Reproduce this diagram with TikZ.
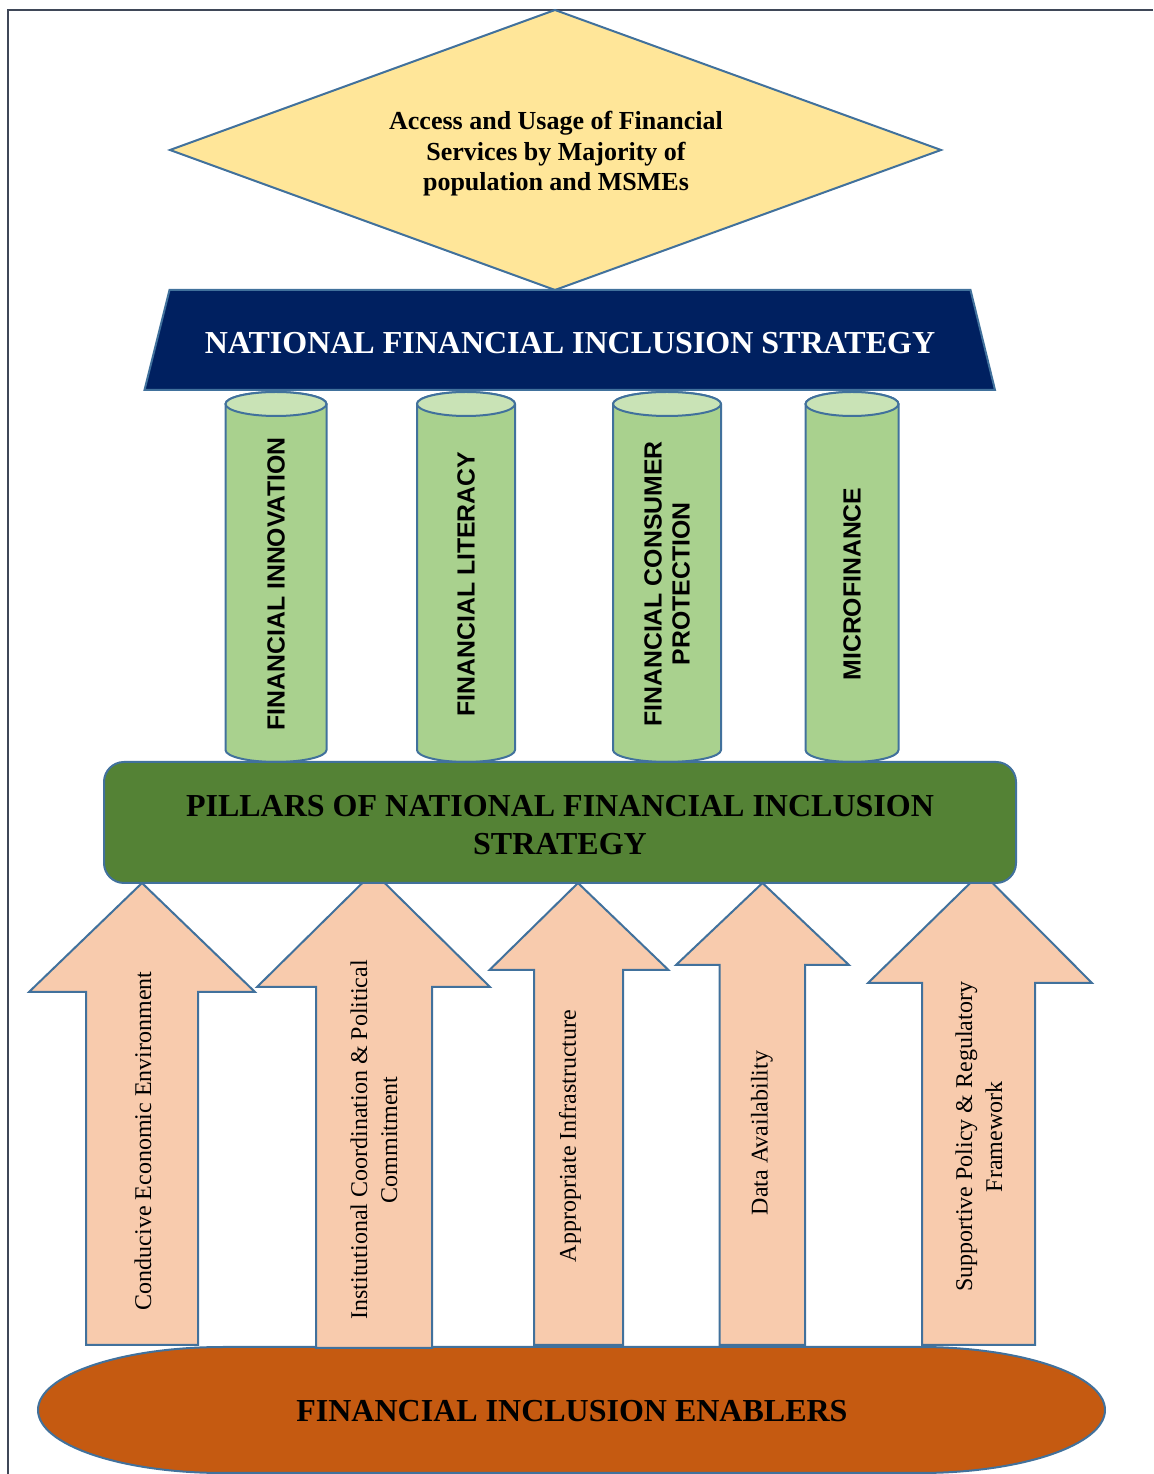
\documentclass[tikz,border=0pt]{standalone}
\usepackage{fontspec}
\setmainfont{Liberation Serif}
\setsansfont{Liberation Sans}
\definecolor{edgeblue}{HTML}{41719C}
\definecolor{framegray}{HTML}{3F4758}
\definecolor{diamondfill}{HTML}{FFE699}
\definecolor{navyfill}{HTML}{002060}
\definecolor{cylfill}{HTML}{A9D18E}
\definecolor{cyltopfill}{HTML}{C9E3B6}
\definecolor{pillarfill}{HTML}{548235}
\definecolor{arrowfill}{HTML}{F8CBAD}
\definecolor{enablerfill}{HTML}{C55A11}
\tikzset{
  framestyle/.style={draw=framegray, line width=0.75pt},
  shapeline/.style={draw=edgeblue, line width=1pt, line join=miter},
  goalshape/.style={shapeline, fill=diamondfill},
  strategyshape/.style={shapeline, fill=navyfill},
  cylbody/.style={shapeline, fill=cylfill},
  cyltop/.style={shapeline, fill=cyltopfill},
  pillarbox/.style={shapeline, fill=pillarfill, rounded corners=10pt},
  uparrow/.style={shapeline, fill=arrowfill},
  enablershape/.style={shapeline, fill=enablerfill},
  boldserif/.style={font=\bfseries\fontsize{16}{19}\selectfont, align=center, inner sep=0pt},
  goaltext/.style={font=\bfseries\fontsize{13}{15.25}\selectfont, align=center, inner sep=0pt},
  pillartext/.style={font=\sffamily\bfseries\fontsize{12.4}{14}\selectfont, align=center, inner sep=0pt, rotate=90},
  arrowtext/.style={font=\fontsize{12}{15}\selectfont, align=center, inner sep=0pt, rotate=90}
}
\begin{document}
\begin{tikzpicture}[x=0.5pt,y=0.5pt]
\useasboundingbox (0,0) rectangle (1153,1474);
% frame
\draw[framestyle] (8,0) -- (8,1464) -- (1153,1464);
% goal diamond
\draw[goalshape] (170,1324) -- (555,1464) -- (941,1324) -- (555,1184) -- cycle;
\node[goaltext] (goal) at (556,1320) {Access and Usage of Financial\\Services by Majority of\\population and MSMEs};
% strategy trapezoid
\draw[strategyshape] (169.5,1184) -- (970.5,1184) -- (995,1084) -- (144.5,1084) -- cycle;
\node[boldserif, text=white] (nfis) at (570,1131) {NATIONAL FINANCIAL INCLUSION STRATEGY};
% pillars (cylinders)
\foreach \cx/\rx/\nm/\txt in {276/50.5/pinnov/{FINANCIAL INNOVATION},
                               466/49/plit/{FINANCIAL LITERACY},
                               667/54/pcons/{FINANCIAL CONSUMER\\PROTECTION},
                               852/46.5/pmicro/{MICROFINANCE}} {
  \draw[cylbody] (\cx-\rx,1070) -- (\cx-\rx,724)
     arc[start angle=180, end angle=360, x radius=\rx, y radius=12]
     -- (\cx+\rx,1070)
     arc[start angle=0, end angle=180, x radius=\rx, y radius=12] -- cycle;
  \draw[cyltop] (\cx,1070) ellipse[x radius=\rx, y radius=12];
  \node[pillartext] (\nm) at (\cx,890) {\txt};
}
% enablers base (flattened oval)
\draw[enablershape] (223,127) -- (920,127)
   arc[start angle=90, end angle=-90, x radius=185, y radius=63]
   -- (223,1)
   arc[start angle=270, end angle=90, x radius=185, y radius=63] -- cycle;
\node[boldserif] (enablers) at (572,63) {FINANCIAL INCLUSION ENABLERS};
% enabler arrows
\foreach \tx/\ty/\by/\hl/\hr/\sl/\sr/\bot in {142/591/482/29/255/86/198/129,
                                                373.5/602/487/257/490/316/432/126,
                                                578/591/504/489.5/668.5/534/623/129,
                                                762.5/591/509/676/849/719.5/805/129,
                                                981.5/602/491/868/1092/922/1035/129} {
  \draw[uparrow] (\sl,\bot) -- (\sl,\by) -- (\hl,\by) -- (\tx,\ty) -- (\hr,\by) -- (\sr,\by) -- (\sr,\bot) -- cycle;
}
\node[arrowtext] (econ) at (143,333) {Conducive Economic Environment};
\node[arrowtext] (inst) at (374,334) {Institutional Coordination \& Political\\Commitment};
\node[arrowtext] (infra) at (570,338) {Appropriate Infrastructure};
\node[arrowtext] (data) at (762,341) {Data Availability};
\node[arrowtext] (policy) at (979,337) {Supportive Policy \& Regulatory\\Framework};
% pillars box
\draw[pillarbox] (104,712) rectangle (1016,591);
\node[boldserif] (pillars) at (560,649) {PILLARS OF NATIONAL FINANCIAL INCLUSION\\STRATEGY};
\end{tikzpicture}
\end{document}
